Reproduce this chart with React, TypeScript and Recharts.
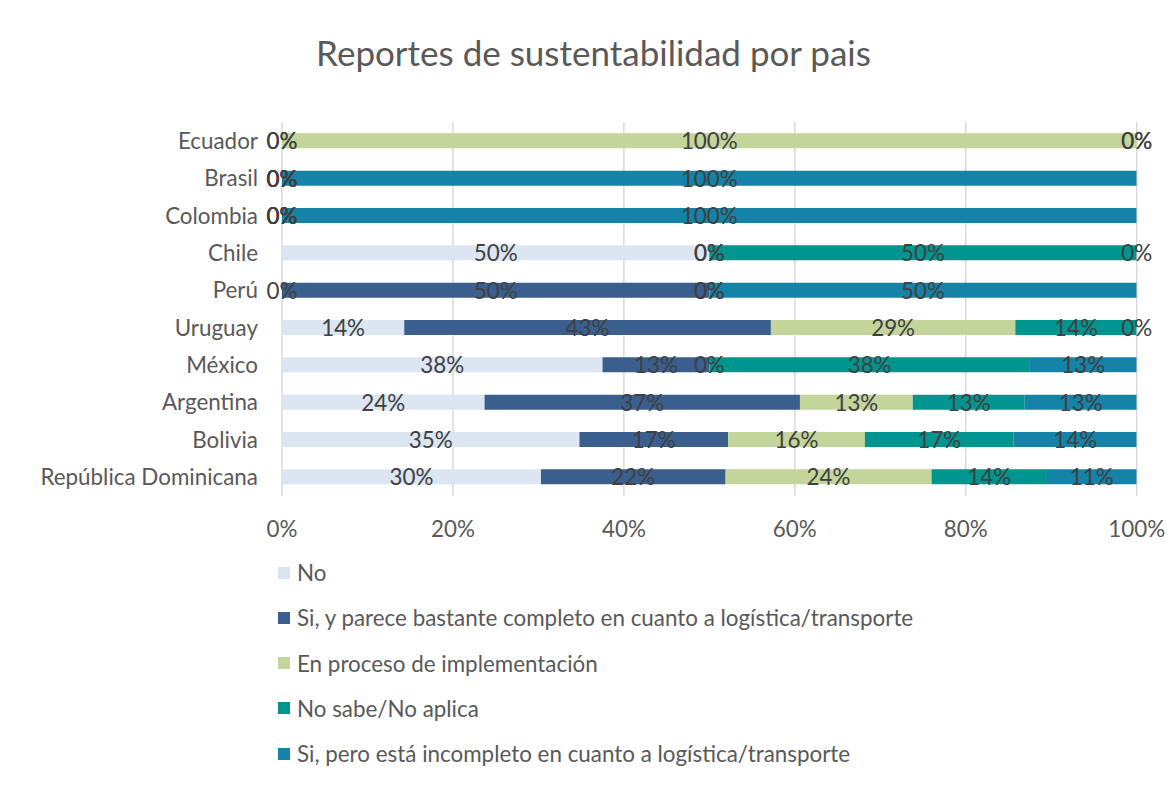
import React from 'react';
import { BarChart, Bar, XAxis, YAxis, CartesianGrid, LabelList, Legend } from 'recharts';

const categories = ['Ecuador', 'Brasil', 'Colombia', 'Chile', 'Perú', 'Uruguay', 'México', 'Argentina', 'Bolivia', 'República Dominicana'];
const noValues = [0, 0, 0, 50, 0, 14.3, 37.5, 23.7, 34.8, 30.3];
const siCompleto = [0, 0, 0, 0, 50, 42.9, 12.5, 36.9, 17.4, 21.6];
const enProceso = [100, 0, 0, 0, 0, 28.6, 0, 13.2, 16.0, 24.1];
const noSabe = [0, 0, 0, 50, 0, 14.2, 37.5, 13.1, 17.4, 13.5];
const siIncompleto = [0, 100, 100, 0, 50, 0, 12.5, 13.1, 14.4, 10.5];
const xTicks = [0, 20, 40, 60, 80, 100];

const seriesNames = [
  'No',
  'Si, y parece bastante completo en cuanto a logística/transporte',
  'En proceso de implementación',
  'No sabe/No aplica',
  'Si, pero está incompleto en cuanto a logística/transporte',
];
const seriesKeys = ['no', 'siCompleto', 'enProceso', 'noSabe', 'siIncompleto'];
const seriesColors = ['#dce6f2', '#3a5e8e', '#c3d59b', '#00958f', '#1582a7'];

const data = categories.map((name, i) => ({
  name,
  no: noValues[i],
  siCompleto: siCompleto[i],
  enProceso: enProceso[i],
  noSabe: noSabe[i],
  siIncompleto: siIncompleto[i],
}));

const FONT = 'Lato, "Noto Sans", sans-serif';
const FS = 22.4;

const renderLegend = () => (
  <div style={{ fontFamily: FONT }}>
    {seriesNames.map((name, i) => (
      <div key={i} style={{ display: 'flex', alignItems: 'center', height: 45.25 }}>
        <span style={{ display: 'inline-block', width: 12, height: 12, background: seriesColors[i], marginRight: 7 }} />
        <span style={{ fontSize: FS, color: '#595959' }}>{name}</span>
      </div>
    ))}
  </div>
);

const renderBarLabel = (props: any) => {
  const { x, y, width, height, value } = props;
  if (x == null || y == null) return null;
  return (
    <text
      x={Number(x) + Number(width || 0) / 2}
      y={Number(y) + Number(height || 0) / 2}
      textAnchor="middle"
      dominantBaseline="central"
      fontSize={FS}
      fill="#404040"
      fontFamily={FONT}
    >
      {`${Math.round(Number(value))}%`}
    </text>
  );
};

export default function App() {
  return (
    <div style={{ margin: -8, width: 1176, height: 785, position: 'relative', overflow: 'hidden', background: '#fff' }}>
      <div style={{ position: 'absolute', left: 5, top: 6, right: -10, bottom: -10, borderTop: '1.5px solid #d9d9d9', borderLeft: '1.5px solid #d9d9d9' }} />
      <div style={{ position: 'absolute', left: 0, top: 32, width: 1187, textAlign: 'center', fontFamily: FONT, fontSize: 35, color: '#595959', lineHeight: '40px' }}>
        Reportes de sustentabilidad por pais
      </div>
      <BarChart
        width={1176}
        height={785}
        data={data}
        layout="vertical"
        margin={{ top: 122.3, right: 39.3, bottom: 259.3, left: 12 }}
        style={{ position: 'absolute', left: 0, top: 0 }}
      >
        <CartesianGrid horizontal={false} stroke="#d9d9d9" strokeWidth={1.5} />
        <XAxis
          type="number"
          domain={[0, 100]}
          ticks={xTicks}
          allowDataOverflow
          tickFormatter={(v: number) => `${v}%`}
          axisLine={false}
          tickLine={false}
          tickSize={0}
          tickMargin={25}
          height={30}
          tick={{ fontSize: FS, fill: '#595959', fontFamily: FONT }}
        />
        <YAxis
          type="category"
          dataKey="name"
          width={270}
          axisLine={false}
          tickLine={false}
          tickSize={0}
          tickMargin={24}
          interval={0}
          tick={{ fontSize: FS, fill: '#595959', fontFamily: FONT }}
        />
        <Legend
          layout="vertical"
          align="center"
          verticalAlign="middle"
          content={renderLegend}
          wrapperStyle={{ left: 278, top: 550, width: 800 }}
        />
        {seriesKeys.map((key, i) => (
          <Bar
            key={key}
            dataKey={key}
            name={seriesNames[i]}
            stackId="a"
            fill={seriesColors[i]}
            barSize={15}
            minPointSize={0.001}
            isAnimationActive={false}
          >
            <LabelList dataKey={key} content={renderBarLabel} />
          </Bar>
        ))}
      </BarChart>
    </div>
  );
}
